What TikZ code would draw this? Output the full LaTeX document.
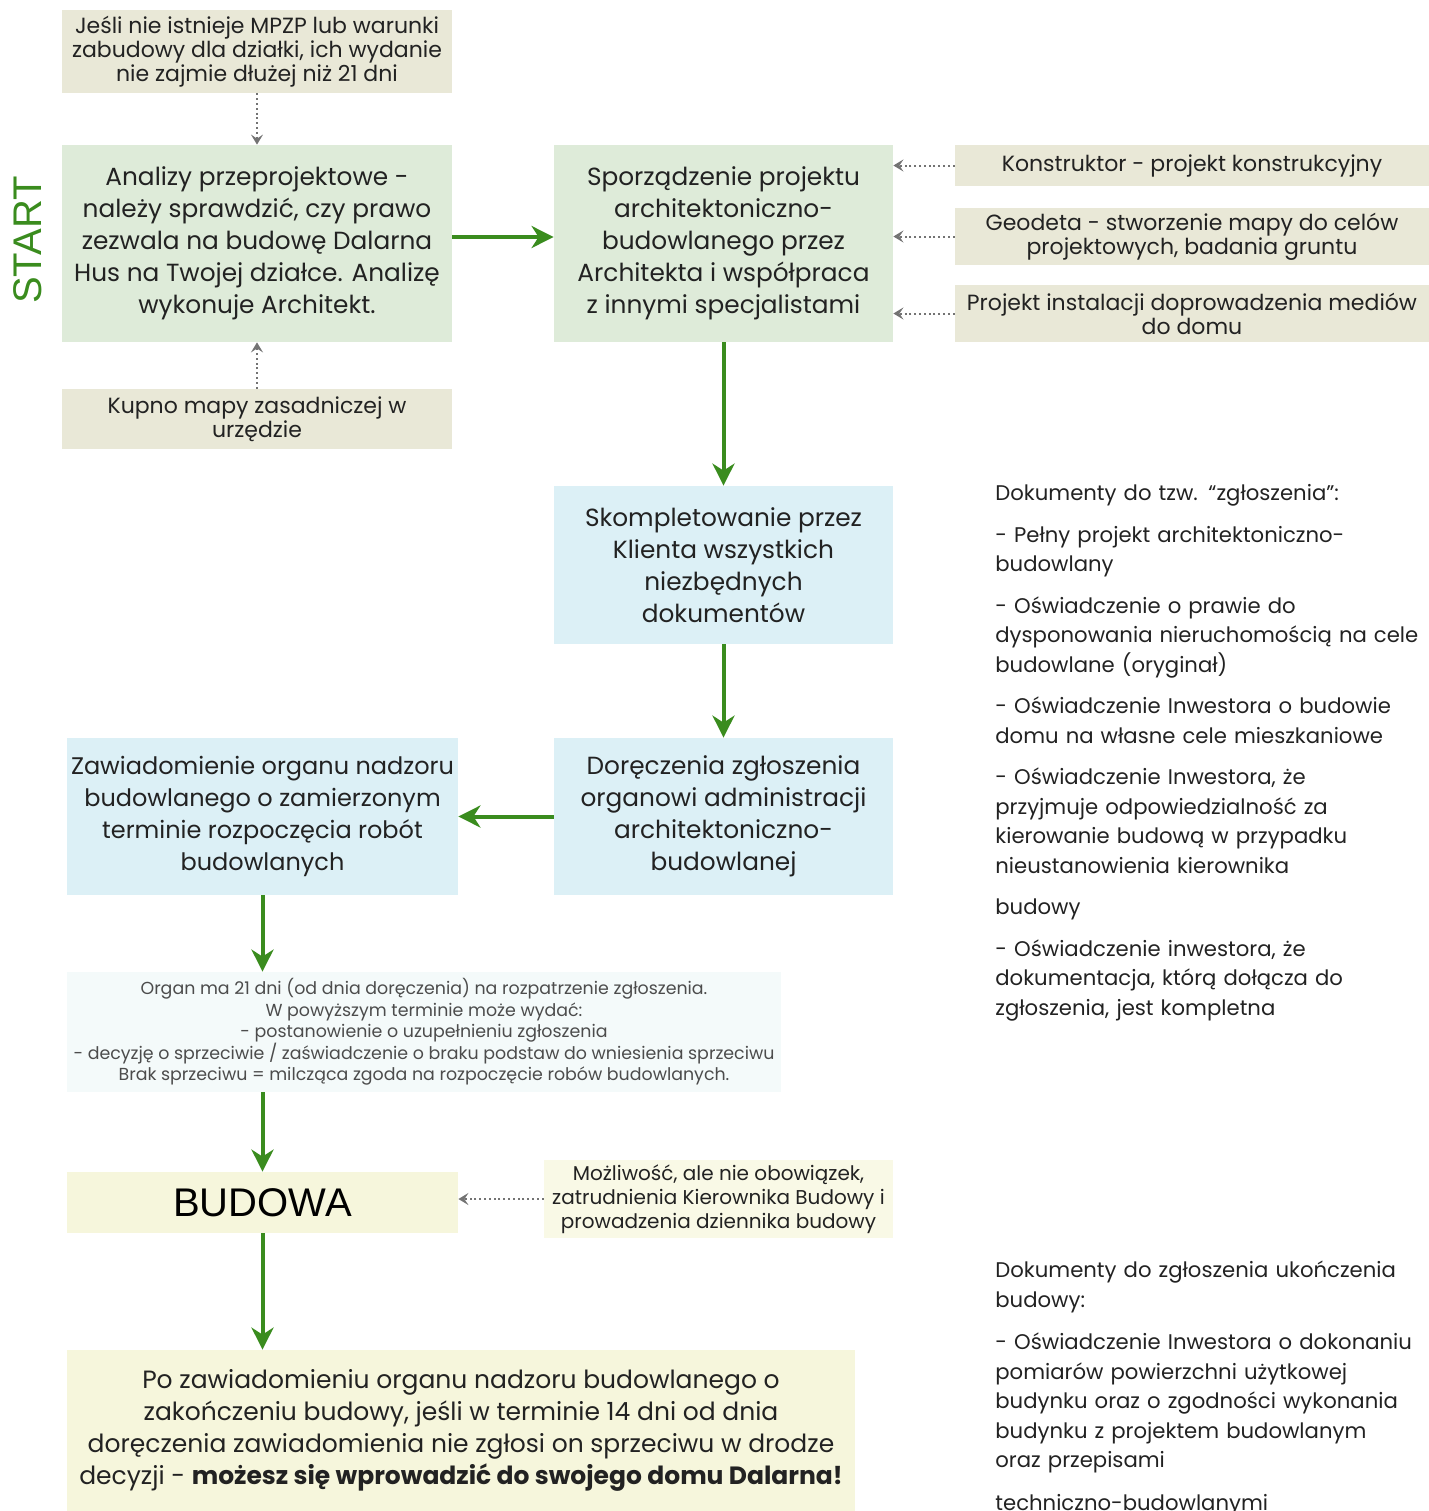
\documentclass[tikz,border=0pt]{standalone}
\usepackage{fontspec}
\setmainfont{Poppins}
\newfontfamily\arialfont{Liberation Sans}
\usetikzlibrary{arrows.meta}

\definecolor{tanbox}{HTML}{E9E8D7}
\definecolor{greenbox}{HTML}{DEEBD9}
\definecolor{bluebox}{HTML}{DCF0F6}
\definecolor{palebox}{HTML}{F4FAFA}
\definecolor{yellowbox}{HTML}{F6F6DC}
\definecolor{creambox}{HTML}{F9F9E6}
\definecolor{arrowgreen}{HTML}{3A8C1E}
\definecolor{textdark}{HTML}{222222}

\begin{document}
\begin{tikzpicture}[x=0.5pt, y=-0.5pt,
    box/.style={inner sep=0pt, align=center, text=textdark},
    note/.style={box, fill=tanbox, font=\fontsize{11}{12}\selectfont},
    side/.style={anchor=north west, inner sep=0pt, text width=240pt, align=left, text=textdark,
        font=\fontsize{10.6}{14.75}\selectfont},
    flow/.style={-{Stealth[length=11pt, width=11pt, inset=3.5pt]}, arrowgreen, line width=2pt},
    hint/.style={-{Stealth[length=5pt, width=6pt, inset=2pt]}, black!55, line width=1pt, dash pattern=on 1pt off 1.4pt}]
                \useasboundingbox (0,0) rectangle (1429,1511);

                % Start column
                \node[rotate=90, text=arrowgreen, font=\arialfont\fontsize{20}{20}\selectfont] (start) at (28,240) {START};
                \node[note, minimum width=195pt, minimum height=41.5pt] (warunki) at (257,51.5)
                    {Jeśli nie istnieje MPZP lub warunki\\zabudowy dla działki, ich wydanie\\nie zajmie dłużej niż 21 dni};
                \node[box, fill=greenbox, minimum width=195pt, minimum height=98.5pt, font=\fontsize{12.4}{16}\selectfont] (analiza) at (257,243.5)
                    {Analizy przeprojektowe -\\należy sprawdzić, czy prawo\\zezwala na budowę Dalarna\\Hus na Twojej działce. Analizę\\wykonuje Architekt.};
                \node[note, minimum width=195pt, minimum height=30pt] (mapa) at (257,419)
                    {Kupno mapy zasadniczej w\\urzędzie};

                % Project column
                \node[box, fill=greenbox, minimum width=169.5pt, minimum height=98.5pt, font=\fontsize{12.4}{16}\selectfont] (projekt) at (723.5,243.5)
                    {Sporządzenie projektu\\architektoniczno-\\budowlanego przez\\Architekta i współpraca\\z innymi specjalistami};
                \node[note, minimum width=237pt, minimum height=20.5pt] (konstruktor) at (1192,165.5)
                    {Konstruktor - projekt konstrukcyjny};
                \node[note, minimum width=237pt, minimum height=28.5pt] (geodeta) at (1192,236.5)
                    {Geodeta - stworzenie mapy do celów\\projektowych, badania gruntu};
                \node[note, minimum width=237pt, minimum height=28.5pt] (media) at (1192,313.5)
                    {Projekt instalacji doprowadzenia mediów\\do domu};

                % Documents
                \node[box, fill=bluebox, minimum width=169.5pt, minimum height=79pt, font=\fontsize{12.4}{16}\selectfont] (dokumenty) at (723.5,565)
                    {Skompletowanie przez\\Klienta wszystkich\\niezbędnych\\dokumentów};
                \node[box, fill=bluebox, minimum width=169.5pt, minimum height=78.5pt, font=\fontsize{12.4}{16}\selectfont] (doreczenie) at (723.5,816.5)
                    {Doręczenia zgłoszenia\\organowi administracji\\architektoniczno-\\budowlanej};
                \node[box, fill=bluebox, minimum width=195.5pt, minimum height=78.5pt, font=\fontsize{12}{16}\selectfont] (zawiadomienie) at (262.5,816.5)
                    {Zawiadomienie organu nadzoru\\budowlanego o zamierzonym\\terminie rozpoczęcia robót\\budowlanych};
                \node[box, fill=palebox, minimum width=357pt, minimum height=60pt, font=\fontsize{8.7}{10.75}\selectfont, text=black!70] (organ) at (424,1032)
                    {Organ ma 21 dni (od dnia doręczenia) na rozpatrzenie zgłoszenia.\\W powyższym terminie może wydać:\\- postanowienie o uzupełnieniu zgłoszenia\\- decyzję o sprzeciwie / zaświadczenie o braku podstaw do wniesienia sprzeciwu\\Brak sprzeciwu = milcząca zgoda na rozpoczęcie robów budowlanych.};

                % Building
                \node[box, fill=yellowbox, minimum width=195.5pt, minimum height=30.5pt, text=black, font=\arialfont\fontsize{20}{20}\selectfont] (budowa) at (262.5,1202.5) {BUDOWA};
                \node[box, fill=creambox, minimum width=174.5pt, minimum height=39pt, font=\fontsize{10}{12}\selectfont] (kierownik) at (718.5,1199)
                    {Możliwość, ale nie obowiązek,\\zatrudnienia Kierownika Budowy i\\prowadzenia dziennika budowy};
                \node[box, fill=yellowbox, minimum width=394pt, minimum height=80.5pt, font=\fontsize{12.5}{16}\selectfont] (koniec) at (461,1430.5)
                    {Po zawiadomieniu organu nadzoru budowlanego o\\zakończeniu budowy, jeśli w terminie 14 dni od dnia\\doręczenia zawiadomienia nie zgłosi on sprzeciwu w drodze\\decyzji - \textbf{możesz się wprowadzić do swojego domu Dalarna!}};

                % Side lists
                \node[side] (lista) at (995,484)
                    {Dokumenty do tzw. “zgłoszenia”:\par\vspace{6pt}
                     - Pełny projekt architektoniczno-\\budowlany\par\vspace{6pt}
                     - Oświadczenie o prawie do\\dysponowania nieruchomością na cele\\budowlane (oryginał)\par\vspace{6pt}
                     - Oświadczenie Inwestora o budowie\\domu na własne cele mieszkaniowe\par\vspace{6pt}
                     - Oświadczenie Inwestora, że\\przyjmuje odpowiedzialność za\\kierowanie budową w przypadku\\nieustanowienia kierownika\par\vspace{6pt}
                     budowy\par\vspace{6pt}
                     - Oświadczenie inwestora, że\\dokumentacja, którą dołącza do\\zgłoszenia, jest kompletna};
                \node[side] (lista2) at (995,1261)
                    {Dokumenty do zgłoszenia ukończenia\\budowy:\par\vspace{6.5pt}
                     - Oświadczenie Inwestora o dokonaniu\\pomiarów powierzchni użytkowej\\budynku oraz o zgodności wykonania\\budynku z projektem budowlanym\\oraz przepisami\par\vspace{6.5pt}
                     techniczno-budowlanymi};

                % Main flow
                \draw[flow] ([yshift=3.25pt]analiza.east) -- ([yshift=3.25pt]projekt.west);
                \draw[flow] (projekt.south) -- (dokumenty.north);
                \draw[flow] (dokumenty.south) -- (doreczenie.north);
                \draw[flow] (doreczenie.west) -- (zawiadomienie.east);
                \draw[flow] (zawiadomienie.south) -- (zawiadomienie.south |- organ.north);
                \draw[flow] (zawiadomienie.south |- organ.south) -- (budowa.north);
                \draw[flow] (budowa.south) -- (budowa.south |- koniec.north);

                % Side hints
                \draw[hint] (warunki.south) -- (analiza.north);
                \draw[hint] (mapa.north) -- (analiza.south);
                \draw[hint] (konstruktor.west) -- (konstruktor.west -| projekt.east);
                \draw[hint] (geodeta.west) -- (geodeta.west -| projekt.east);
                \draw[hint] (media.west) -- (media.west -| projekt.east);
                \draw[hint] (kierownik.west) -- (kierownik.west -| budowa.east);
            \end{tikzpicture}
\end{document}
